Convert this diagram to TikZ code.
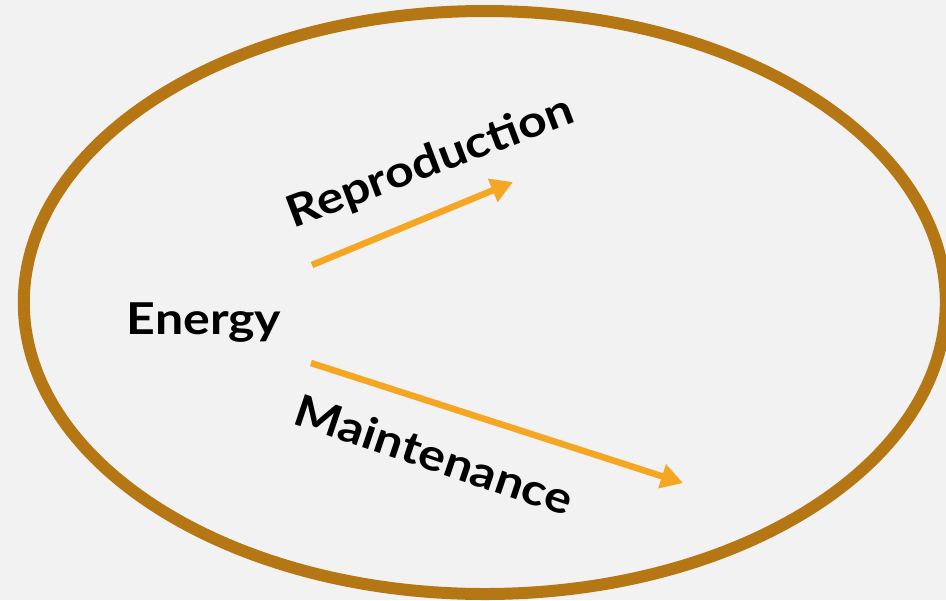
\documentclass[tikz,border=0pt]{standalone}
\usepackage{fontspec}
\setmainfont{Lato}[FakeStretch=1.14]
\usetikzlibrary{arrows.meta}
\definecolor{ringbrown}{HTML}{B57614}
\definecolor{flowgold}{HTML}{F5A623}
\definecolor{paper}{HTML}{F2F2F2}

\begin{document}
\begin{tikzpicture}[x=0.02cm,y=-0.02cm,>={Triangle[length=0.44cm,width=0.48cm]},
                    flow/.style={->,draw=flowgold,fill=flowgold,line width=0.13cm},
                    word node/.style={inner sep=0pt,anchor=base,font=\fontsize{25}{30}\selectfont\bfseries}]
                \fill[paper] (0,0) rectangle (946,600);
                \useasboundingbox (0,0) rectangle (946,600);
                \draw[ringbrown,line width=0.24cm] (484.8,302.5) ellipse [x radius=461, y radius=291.5];

                \node[word node] (energy) at (204,334) {Energy};
                \node[word node,rotate=20.7] (repro) at (435,175) {Reproduction};
                \node[word node,rotate=-18.6] (maint) at (429,470) {Maintenance};

                \coordinate (r0) at (312,265);
                \coordinate (r1) at (513,182);
                \coordinate (m0) at (311,363);
                \coordinate (m1) at (683,483);

                \draw[flow] (r0) -- (r1);
                \draw[flow] (m0) -- (m1);
            \end{tikzpicture}
\end{document}
